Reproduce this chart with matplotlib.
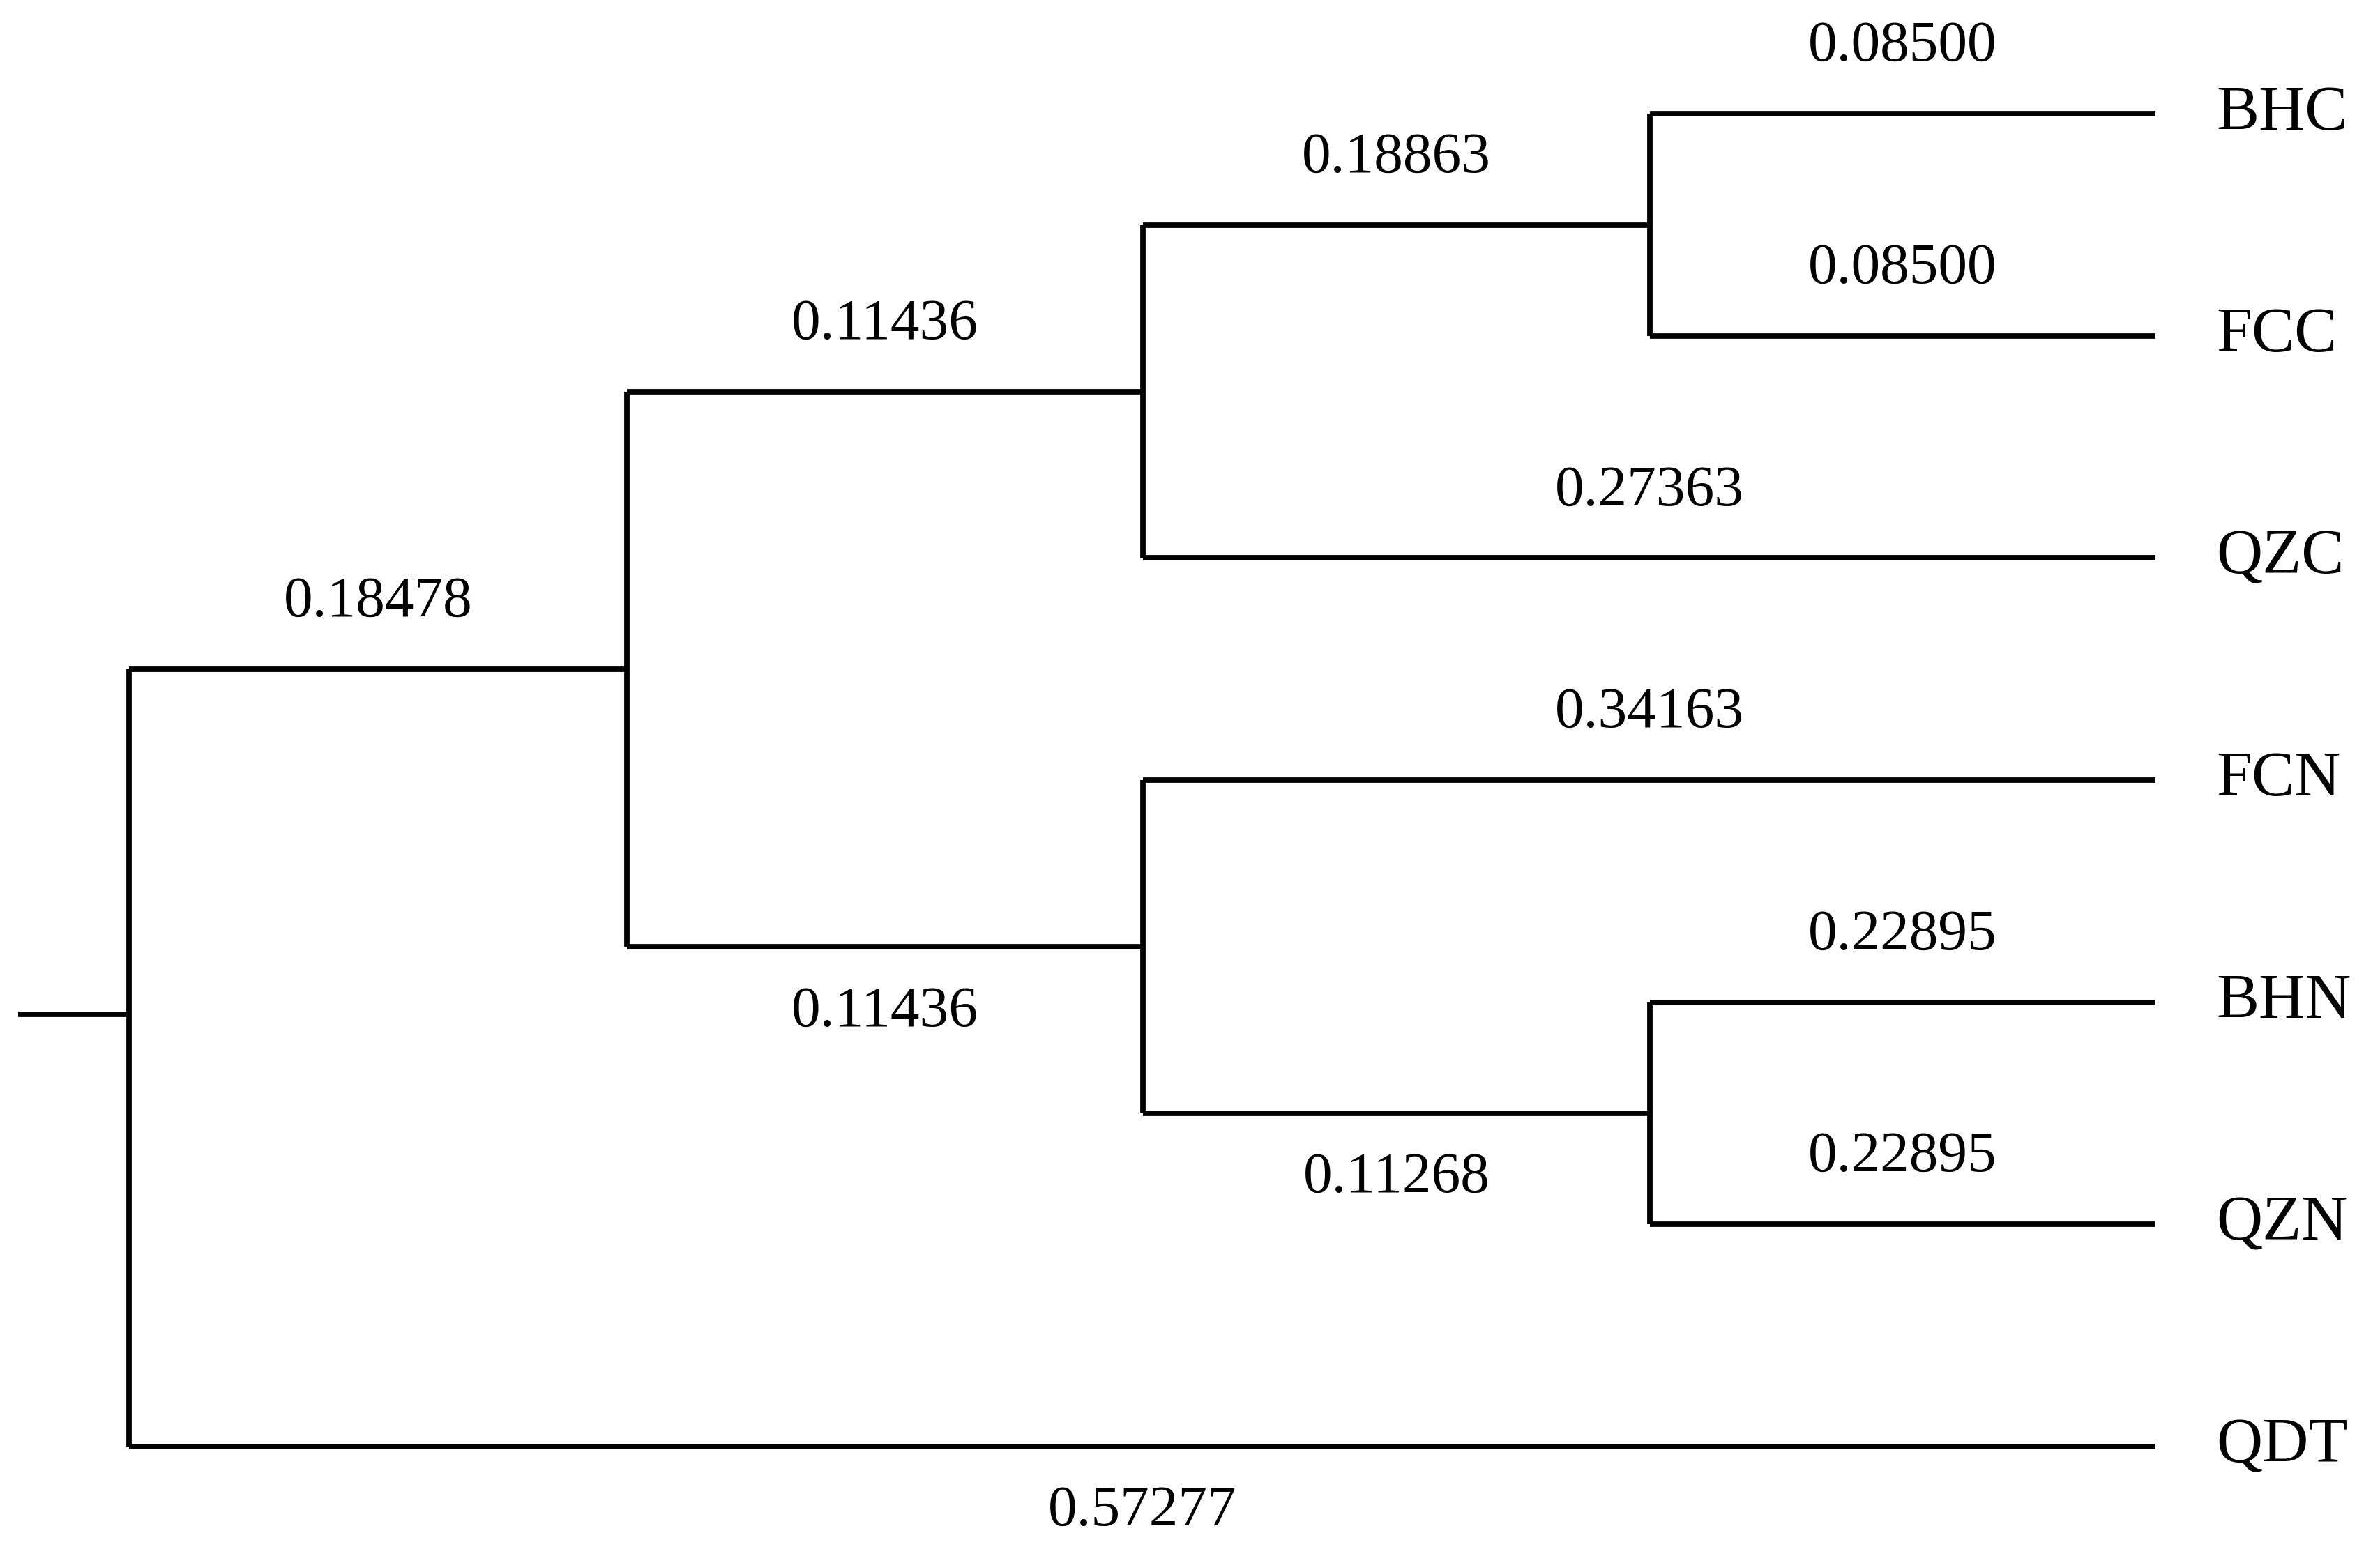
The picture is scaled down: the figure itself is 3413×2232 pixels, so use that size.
import matplotlib
matplotlib.use("Agg")
import matplotlib.pyplot as plt

# Tree data: (name, branch_length, children)
leaves = ["BHC", "FCC", "QZC", "FCN", "BHN", "QZN", "QDT"]
tree = ("root", None, [
    ("n1", 0.18478, [
        ("n2", 0.11436, [
            ("n3", 0.18863, [("BHC", 0.08500, []), ("FCC", 0.08500, [])]),
            ("QZC", 0.27363, []),
        ]),
        ("n4", 0.11436, [
            ("FCN", 0.34163, []),
            ("n5", 0.11268, [("BHN", 0.22895, []), ("QZN", 0.22895, [])]),
        ]),
    ]),
    ("QDT", 0.57277, []),
])
below_labels = {"QDT", "n5", "n4"}  # branch labels drawn under the branch

level_x = [85, 413, 753, 1087]
tip_x = 1420
leaf_y0, leaf_dy = 75, 146.3

fig = plt.figure(figsize=(3413/200, 2232/200), dpi=200)
ax = fig.add_axes([0, 0, 1, 1])
ax.set_xlim(0, 1568)
ax.set_ylim(1025, 0)
ax.axis("off")
lw = 2.8
fs = 30
font = "Liberation Serif"

def layout(node, depth):
    name, bl, kids = node
    if not kids:
        return tip_x, leaf_y0 + leaves.index(name) * leaf_dy
    x = level_x[depth]
    cs = [layout(k, depth + 1) for k in kids]
    ys = [c[1] for c in cs]
    y = (ys[0] + ys[-1]) / 2
    ax.plot([x, x], [ys[0], ys[-1]], color="black", lw=lw, solid_capstyle="butt")
    for k, (cx, cy) in zip(kids, cs):
        ax.plot([x, cx], [cy, cy], color="black", lw=lw, solid_capstyle="butt")
        kname, kbl, _ = k
        below = kname in below_labels
        ty = cy + 43 if below else cy - 44
        ax.text((x + cx) / 2, ty, f"{kbl:.5f}", ha="center", va="center",
                fontsize=fs, family=font)
        if not k[2]:
            ax.text(cx + 40, cy, kname, ha="left", va="center",
                    fontsize=fs + 3, family=font)
    return x, y

rx, ry = layout(tree, 0)
ax.plot([12, rx], [668, 668], color="black", lw=lw, solid_capstyle="butt")
fig.savefig("out.png", dpi=200)
